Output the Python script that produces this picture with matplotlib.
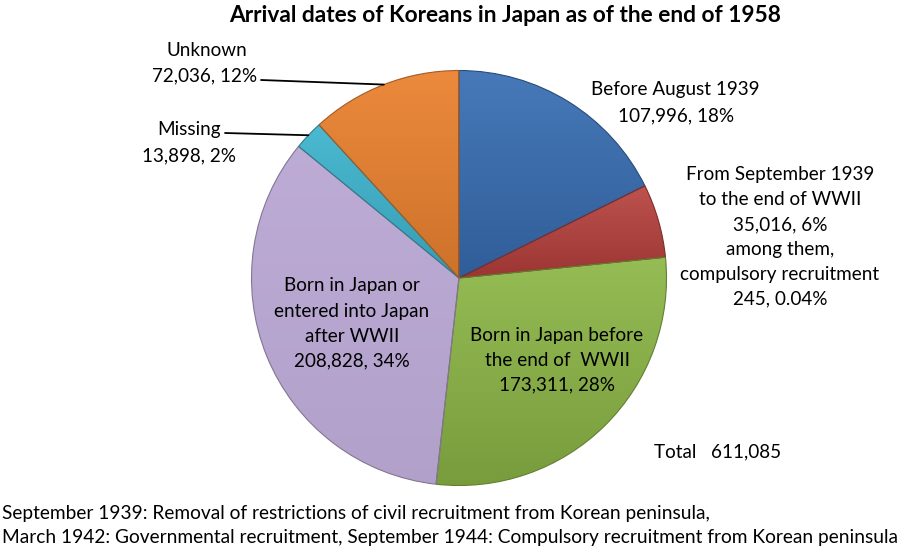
import numpy as np
import matplotlib
matplotlib.use("Agg")
import matplotlib.pyplot as plt
from matplotlib.colors import to_rgb

plt.rcParams['font.family'] = ['Lato', 'DejaVu Sans']

# ---- data ----
categories = ["Before August 1939", "From September 1939 to the end of WWII",
              "Born in Japan before the end of WWII",
              "Born in Japan or entered into Japan after WWII", "Missing", "Unknown"]
values = [107996, 35016, 173311, 208828, 13898, 72036]
colors = ["#376db2", "#b63f3b", "#8cb646", "#bba9d4", "#3cb3cd", "#ea8230"]
title = "Arrival dates of Koreans in Japan as of the end of 1958"
total_label = "Total   611,085"
footnote = ["September 1939: Removal of restrictions of civil recruitment from Korean peninsula,",
            "March 1942: Governmental recruitment, September 1944: Compulsory recruitment from Korean peninsula"]

W, H = 905, 550
fig = plt.figure(figsize=(W / 100, H / 100), dpi=100)

def fx(x):
    return x / W

def fy(y):
    return 1 - y / H

cx, cy, r = 459, 278, 207.5
ax = fig.add_axes([fx(cx - r), fy(cy + r), 2 * r / W, 2 * r / H])
wedges, _ = ax.pie(values, colors=colors, startangle=90, counterclock=False,
                   radius=1, wedgeprops=dict(linewidth=0))
ax.set_xlim(-1, 1)
ax.set_ylim(-1, 1)
ax.set_aspect('auto')
ax.axis('off')

def mix(c, other, t):
    c = np.array(to_rgb(c))
    return c * (1 - t) + np.array(other) * t

grad_amt = [(0.08, 0.14), (0.10, 0.14), (0.08, 0.14), (0.03, 0.05), (0.08, 0.12), (0.06, 0.12)]
for w, c, (gt, gb) in zip(wedges, colors, grad_amt):
    ext = w.get_path().get_extents()
    n = 64
    t = np.linspace(0, 1, n)[:, None]
    top = mix(c, (1, 1, 1), gt)
    bot = mix(c, (0, 0, 0), gb)
    grad = top[None, :] * (1 - t[:, :, None]) + bot[None, :] * t[:, :, None]
    im = ax.imshow(grad, extent=(ext.x0, ext.x1, ext.y0, ext.y1), origin='upper',
                   aspect='auto', interpolation='bilinear', zorder=2)
    im.set_clip_path(w)
    w.set_facecolor('none')
    w.set_edgecolor(mix(c, (0, 0, 0), 0.3))
    w.set_linewidth(0.8)
    w.set_zorder(3)

ax.set_xlim(-1, 1)
ax.set_ylim(-1, 1)

fs = 13.6
def txt(x, y, s, **kw):
    kw.setdefault('fontsize', fs)
    kw.setdefault('ha', 'center')
    kw.setdefault('va', 'center')
    fig.text(fx(x), fy(y), s, color='black', **kw)

txt(505, 15, title, fontsize=16.4, fontweight='bold')

# outside labels
txt(207, 51, "Unknown")
txt(205, 76, "72,036, 12%")
txt(189, 130, "Missing")
txt(189, 156, "13,898, 2%")
txt(675, 90, "Before August 1939")
txt(676, 116, "107,996, 18%")
for i, s in enumerate(["From September 1939", "to the end of WWII", "35,016, 6%",
                       "among them,", "compulsory recruitment", "245, 0.04%"]):
    txt(780, 175 + 24.8 * i, s)

# inside labels
for i, s in enumerate(["Born in Japan or", "entered into Japan", "after WWII", "208,828, 34%"]):
    txt(352, 286 + 25 * i, s)
for i, s in enumerate(["Born in Japan before", "the end of  WWII", "173,311, 28%"]):
    txt(557, 335 + 25 * i, s)

txt(654, 452, total_label, ha='left')
txt(2, 514, footnote[0], ha='left', fontsize=13.8)
txt(2, 538, footnote[1], ha='left', fontsize=13.8)

# leader lines to wedge rims at mid angle
total = sum(values)
cum = 0
mids = []
for v in values:
    a0 = 90 - 360 * cum / total
    a1 = 90 - 360 * (cum + v) / total
    mids.append(np.deg2rad((a0 + a1) / 2))
    cum += v
for idx, (px, py) in [(5, (261, 80)), (4, (225, 133))]:
    a = mids[idx]
    ax.annotate('', xy=(np.cos(a), np.sin(a)), xycoords='data',
                xytext=(fx(px), fy(py)), textcoords='figure fraction',
                arrowprops=dict(arrowstyle='-', color='black', lw=1.3,
                                shrinkA=0, shrinkB=0), zorder=4)

fig.savefig("out.png", dpi=100)
